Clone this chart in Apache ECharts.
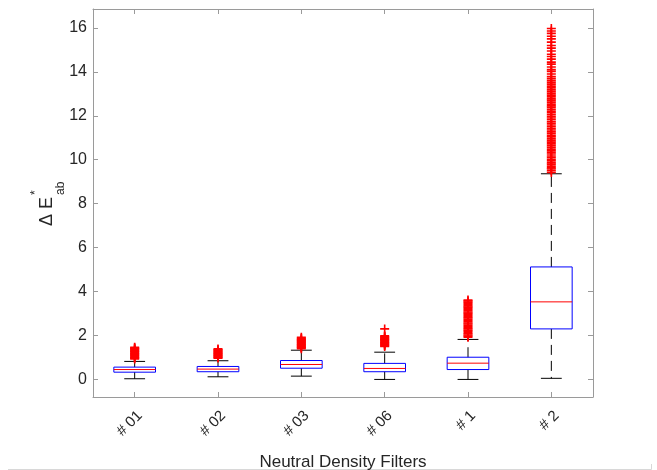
<!DOCTYPE html>
<html>
<head>
<meta charset="utf-8">
<script src="https://cdn.jsdelivr.net/npm/echarts@6/dist/echarts.min.js"></script>
<style>
  html, body { margin: 0; padding: 0; background: #fff; }
  #chart { width: 657px; height: 470px; }
</style>
</head>
<body>
<div id="chart"></div>
<script>
// filters on the x axis
const categories = ['# 01', '# 02', '# 03', '# 06', '# 1', '# 2']
const yTicks = [0, 2, 4, 6, 8, 10, 12, 14, 16]

// box stats
const lowWhisker = [0.03, 0.12, 0.15, 0.0, 0.0, 0.05]
const q1 = [0.33, 0.35, 0.51, 0.35, 0.45, 2.30]
const median = [0.45, 0.47, 0.68, 0.50, 0.74, 3.53]
const q3 = [0.56, 0.59, 0.86, 0.73, 1.01, 5.12]
const highWhisker = [0.82, 0.85, 1.33, 1.24, 1.82, 9.36]

// outliers (+ marks), one list per filter
const out01 = [0.93, 0.97, 1.0, 1.04, 1.08, 1.11, 1.15, 1.18, 1.22, 1.26, 1.29, 1.33, 1.37, 1.4, 1.43, 1.46]
const out02 = [0.97, 1.0, 1.04, 1.07, 1.11, 1.14, 1.18, 1.21, 1.25, 1.28, 1.32, 1.35, 1.39]
const out03 = [1.4, 1.44, 1.47, 1.51, 1.55, 1.58, 1.62, 1.66, 1.7, 1.73, 1.77, 1.8, 1.84, 1.87, 1.92]
const out06 = [1.5, 1.54, 1.57, 1.61, 1.65, 1.68, 1.72, 1.76, 1.8, 1.83, 1.87, 1.9, 1.94, 1.98, 2.3]
const out1 = [1.92, 1.97, 2.02, 2.08, 2.13, 2.19, 2.24, 2.3, 2.35, 2.41, 2.46, 2.52, 2.57, 2.63, 2.68,
  2.74, 2.8, 2.85, 2.91, 2.96, 3.02, 3.07, 3.13, 3.18, 3.24, 3.29, 3.35, 3.41, 3.46, 3.52, 3.57, 3.61]
const out2 = [9.42, 9.5, 9.58, 9.63, 9.71, 9.8, 9.86, 9.95, 10.02, 10.1, 10.17, 10.26, 10.33, 10.4,
  10.48, 10.57, 10.64, 10.72, 10.8, 10.87, 10.95, 11.04, 11.1, 11.19, 11.27, 11.35, 11.42, 11.5,
  11.58, 11.66, 11.73, 11.82, 11.9, 11.97, 12.05, 12.14, 12.21, 12.3, 12.38, 12.45, 12.53, 12.62,
  12.7, 12.77, 12.86, 12.94, 13.02, 13.1, 13.18, 13.27, 13.35, 13.44, 13.52, 13.6, 13.69, 13.78,
  13.9, 14.02, 14.1, 14.22, 14.35, 14.44, 14.58, 14.7, 14.8, 14.95, 15.08, 15.2, 15.35, 15.5,
  15.62, 15.75, 15.86, 15.97]
const outliers = [out01, out02, out03, out06, out1, out2]

const boxData = categories.map((c, i) => [i, lowWhisker[i], q1[i], median[i], q3[i], highWhisker[i]])
const outlierData = []
outliers.forEach((list, i) => {
  list.forEach(v => outlierData.push([i, v]))
})

const axisColor = '#9a9a9a'
const textColor = '#262626'
const font = 'Liberation Sans'
const plusPath = 'path://M4.1,0h1.8v4.1h4.1v1.8h-4.1v4.1h-1.8v-4.1h-4.1v-1.8h4.1z'

function renderBox(params, api) {
  const x = api.value(0)
  const pLow = api.coord([x, api.value(1)])
  const pQ1 = api.coord([x, api.value(2)])
  const pMed = api.coord([x, api.value(3)])
  const pQ3 = api.coord([x, api.value(4)])
  const pHigh = api.coord([x, api.value(5)])
  const bandW = api.size([1, 0])[0]
  const halfW = bandW * 0.25
  const capW = bandW * 0.125
  const cx = pMed[0]
  const dash = { stroke: '#000', lineWidth: 1, lineDash: [10, 6] }
  const solid = { stroke: '#000', lineWidth: 1 }
  return {
    type: 'group',
    children: [
      { type: 'line', shape: { x1: cx, y1: pQ1[1], x2: cx, y2: pLow[1] }, style: dash },
      { type: 'line', shape: { x1: cx, y1: pQ3[1], x2: cx, y2: pHigh[1] }, style: dash },
      { type: 'line', shape: { x1: cx - capW, y1: pLow[1], x2: cx + capW, y2: pLow[1] }, style: solid },
      { type: 'line', shape: { x1: cx - capW, y1: pHigh[1], x2: cx + capW, y2: pHigh[1] }, style: solid },
      {
        type: 'rect',
        shape: { x: cx - halfW, y: pQ3[1], width: halfW * 2, height: pQ1[1] - pQ3[1] },
        style: { fill: 'none', stroke: '#0000ff', lineWidth: 1 }
      },
      { type: 'line', shape: { x1: cx - halfW, y1: pMed[1], x2: cx + halfW, y2: pMed[1] }, style: { stroke: '#ff0000', lineWidth: 1 } }
    ]
  }
}

const chart = echarts.init(document.getElementById('chart'))
chart.setOption({
  animation: false,
  backgroundColor: '#ffffff',
  grid: { left: 93, right: 64, top: 9, bottom: 73, containLabel: false, outerBoundsMode: 'none' },
  xAxis: [{
    type: 'category',
    position: 'bottom',
    data: categories,
    boundaryGap: true,
    axisLine: { show: true, onZero: false, lineStyle: { color: axisColor, width: 1 } },
    axisTick: { show: true, inside: true, alignWithLabel: true, length: 5, lineStyle: { color: axisColor } },
    axisLabel: { rotate: 45, margin: 11, fontSize: 15, color: textColor, fontFamily: font, verticalAlign: 'top' },
    splitLine: { show: false },
    name: 'Neutral Density Filters',
    nameLocation: 'middle',
    nameGap: 57,
    nameTextStyle: { fontSize: 17, color: textColor, fontFamily: font }
  }, {
    type: 'category',
    position: 'top',
    data: categories,
    boundaryGap: true,
    axisLine: { show: true, onZero: false, lineStyle: { color: axisColor, width: 1 } },
    axisTick: { show: true, inside: true, alignWithLabel: true, length: 5, lineStyle: { color: axisColor } },
    axisLabel: { show: false },
    splitLine: { show: false }
  }],
  yAxis: [{
    type: 'value',
    position: 'left',
    min: -0.8,
    max: 16.86,
    axisLine: { show: true, onZero: false, lineStyle: { color: axisColor, width: 1 } },
    axisTick: { show: true, inside: true, length: 5, customValues: yTicks, lineStyle: { color: axisColor } },
    axisLabel: { customValues: yTicks, margin: 6, fontSize: 16, color: textColor, fontFamily: font },
    splitLine: { show: false }
  }, {
    type: 'value',
    position: 'right',
    min: -0.8,
    max: 16.86,
    axisLine: { show: true, onZero: false, lineStyle: { color: axisColor, width: 1 } },
    axisTick: { show: true, inside: true, length: 5, customValues: yTicks, lineStyle: { color: axisColor } },
    axisLabel: { show: false },
    splitLine: { show: false }
  }],
  series: [{
    type: 'custom',
    renderItem: renderBox,
    xAxisIndex: 0,
    yAxisIndex: 0,
    encode: { x: 0, y: [1, 2, 3, 4, 5] },
    data: boxData,
    z: 2
  }, {
    type: 'scatter',
    xAxisIndex: 0,
    yAxisIndex: 0,
    symbol: plusPath,
    symbolSize: 9,
    itemStyle: { color: '#ff0000', opacity: 1 },
    data: outlierData,
    z: 3
  }],
  graphic: [{
    type: 'group',
    x: 47,
    y: 226,
    rotation: Math.PI / 2,
    children: [
      { type: 'text', x: 0, y: 0, style: { text: 'Δ E', fontSize: 18, fontFamily: font, fill: textColor, align: 'left', verticalAlign: 'middle' } },
      { type: 'text', x: 31, y: -11, style: { text: '*', fontSize: 12, fontFamily: font, fill: textColor, align: 'left', verticalAlign: 'middle' } },
      { type: 'text', x: 31, y: 14, style: { text: 'ab', fontSize: 12, fontFamily: font, fill: textColor, align: 'left', verticalAlign: 'middle' } }
    ]
  }, {
    type: 'polyline',
    shape: { points: [[8, 469.5], [651.5, 469.5], [651.5, 464]] },
    style: { stroke: '#d8d8d8', lineWidth: 1, fill: null }
  }]
})
</script>
</body>
</html>
